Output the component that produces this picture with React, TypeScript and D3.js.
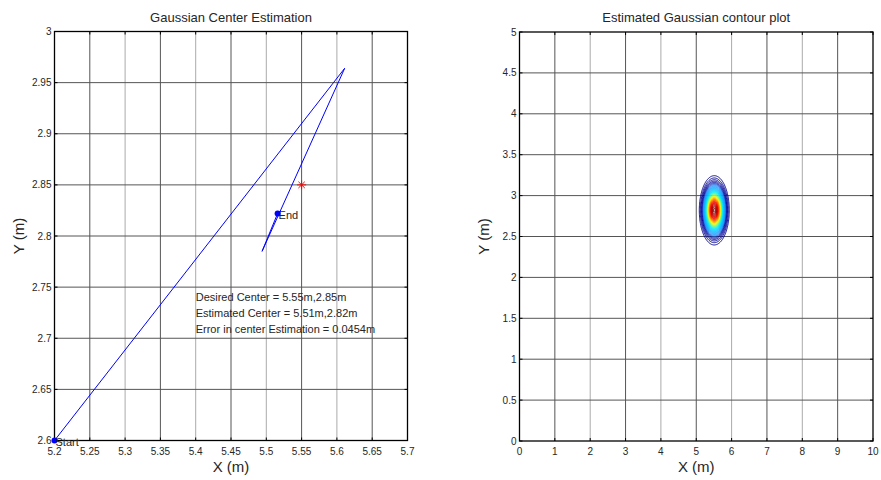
import React from "react";
import * as d3 from "d3";

// left panel: estimator trajectory
const leftXTicks = [5.2, 5.25, 5.3, 5.35, 5.4, 5.45, 5.5, 5.55, 5.6, 5.65, 5.7];
const leftYTicks = [2.6, 2.65, 2.7, 2.75, 2.8, 2.85, 2.9, 2.95, 3];
const pathX = [5.2, 5.611, 5.494, 5.516];
const pathY = [2.6, 2.964, 2.785, 2.822];
const desired = [5.55, 2.85];
const infoLines = [
  "Desired Center = 5.55m,2.85m",
  "Estimated Center = 5.51m,2.82m",
  "Error in center Estimation = 0.0454m",
];

// right panel: gaussian contour
const rightXTicks = [0, 1, 2, 3, 4, 5, 6, 7, 8, 9, 10];
const rightYTicks = [0, 0.5, 1, 1.5, 2, 2.5, 3, 3.5, 4, 4.5, 5];
const gaussCenter = [5.51, 2.82];
const gaussSigma = 0.17;
const levelCount = 44;

const FONT = "Liberation Sans, Arial, sans-serif";
const TXT = "#262626";

// jet-like map, outer levels kept dark navy like the reference
const jet = d3
  .scaleLinear<string>()
  .domain([0, 0.1, 0.16, 0.4, 0.62, 0.85, 1])
  .range(["#00008f", "#00009a", "#1a8cff", "#00f0ff", "#ffff00", "#ff0000", "#800000"]);

function Frame({ x, y, xTicks, yTicks, fmt, title }: any) {
  const [x0, x1] = x.range();
  const [y0, y1] = y.range(); // y0 bottom
  return (
    <g>
      {xTicks.slice(1, -1).map((t: number, i: number) => (
        <line key={"gx" + t} x1={x(t)} x2={x(t)} y1={y0} y2={y1}
          stroke={i % 2 === 0 ? "#555" : "#aaa"} strokeWidth={1} />
      ))}
      {yTicks.slice(1, -1).map((t: number) => (
        <line key={"gy" + t} x1={x0} x2={x1} y1={y(t)} y2={y(t)} stroke="#555" strokeWidth={1} />
      ))}
      {xTicks.map((t: number) => (
        <g key={"tx" + t}>
          <line x1={x(t)} x2={x(t)} y1={y0} y2={y0 - 3} stroke="#000" />
          <line x1={x(t)} x2={x(t)} y1={y1} y2={y1 + 3} stroke="#000" />
          <text x={x(t)} y={y0 + 14} textAnchor="middle" fontSize={10} fill={TXT} fontFamily={FONT}>
            {fmt(t)}
          </text>
        </g>
      ))}
      {yTicks.map((t: number) => (
        <g key={"ty" + t}>
          <line x1={x0} x2={x0 + 3} y1={y(t)} y2={y(t)} stroke="#000" />
          <line x1={x1} x2={x1 - 3} y1={y(t)} y2={y(t)} stroke="#000" />
          <text x={x0 - 3} y={y(t) + 3.5} textAnchor="end" fontSize={10} fill={TXT} fontFamily={FONT}>
            {fmt(t)}
          </text>
        </g>
      ))}
      <rect x={x0} y={y1} width={x1 - x0} height={y0 - y1} fill="none" stroke="#000" strokeWidth={1.3} />
      <text x={(x0 + x1) / 2} y={y1 - 10} textAnchor="middle" fontSize={13} fill={TXT} fontFamily={FONT}>
        {title}
      </text>
      <text x={(x0 + x1) / 2} y={y0 + 31} textAnchor="middle" fontSize={15} fill={TXT} fontFamily={FONT}>
        X (m)
      </text>
      <text transform={`translate(${x0 - 31},${(y0 + y1) / 2}) rotate(-90)`} textAnchor="middle"
        fontSize={15} fill={TXT} fontFamily={FONT}>
        Y (m)
      </text>
    </g>
  );
}

export default function App() {
  const fmt = (v: number) => String(+v.toFixed(2));

  const lx = d3.scaleLinear().domain([5.2, 5.7]).range([54.5, 407.5]);
  const ly = d3.scaleLinear().domain([2.6, 3]).range([440.5, 31.5]);
  const rx = d3.scaleLinear().domain([0, 10]).range([519.5, 873]);
  const ry = d3.scaleLinear().domain([0, 5]).range([441, 32]);

  const line = d3
    .line<number>()
    .x((i) => lx(pathX[i]))
    .y((i) => ly(pathY[i]));
  const last = pathX.length - 1;

  // gaussian surface sampled on a grid around the estimated center
  const step = 0.01;
  const gx0 = 4, gy0 = 1.5, nx = 300, ny = 250;
  const values = new Array(nx * ny);
  for (let j = 0; j < ny; j++) {
    for (let i = 0; i < nx; i++) {
      const dx = gx0 + i * step - gaussCenter[0];
      const dy = gy0 + j * step - gaussCenter[1];
      values[j * nx + i] = Math.exp(-(dx * dx + dy * dy) / (2 * gaussSigma * gaussSigma));
    }
  }
  const gmin = 0.045, gmax = 0.99;
  const levels = d3.range(levelCount).map((k) => gmin + (k * (gmax - gmin)) / (levelCount - 1));
  const contours = d3.contours().size([nx, ny]).thresholds(levels)(values);
  const proj = d3.geoTransform({
    point(px: number, py: number) {
      (this as any).stream.point(rx(gx0 + (px - 0.5) * step), ry(gy0 + (py - 0.5) * step));
    },
  });
  const geo = d3.geoPath(proj);

  return (
    <svg width={881} height={480} style={{ position: "absolute", left: 0, top: 0, background: "#fff" }}>
      <Frame x={lx} y={ly} xTicks={leftXTicks} yTicks={leftYTicks} fmt={fmt} title="Gaussian Center Estimation" />
      <path d={line(d3.range(pathX.length)) || ""} fill="none" stroke="#0000ff" strokeWidth={1} />
      <circle cx={lx(pathX[0])} cy={ly(pathY[0])} r={3} fill="#0000ff" />
      <circle cx={lx(pathX[last])} cy={ly(pathY[last])} r={3} fill="#0000ff" />
      <text x={lx(pathX[0]) + 1} y={ly(pathY[0]) + 5} fontSize={11} fill={TXT} fontFamily={FONT}>Start</text>
      <text x={lx(pathX[last]) + 1} y={ly(pathY[last]) + 5} fontSize={11} fill={TXT} fontFamily={FONT}>End</text>
      <g stroke="#ff0000" strokeWidth={1}>
        {[0, 45, 90, 135].map((a) => (
          <line key={a}
            x1={lx(desired[0]) - 4.5 * Math.cos((a * Math.PI) / 180)}
            y1={ly(desired[1]) - 4.5 * Math.sin((a * Math.PI) / 180)}
            x2={lx(desired[0]) + 4.5 * Math.cos((a * Math.PI) / 180)}
            y2={ly(desired[1]) + 4.5 * Math.sin((a * Math.PI) / 180)} />
        ))}
      </g>
      {infoLines.map((s, i) => (
        <text key={i} x={lx(5.4)} y={ly(2.736) + i * 16} fontSize={11} fill={TXT} fontFamily={FONT}>{s}</text>
      ))}

      <Frame x={rx} y={ry} xTicks={rightXTicks} yTicks={rightYTicks} fmt={fmt} title="Estimated Gaussian contour plot" />
      <g fill="none">
        {contours.map((c, k) => (
          <path key={k} d={geo(c as any) || ""} stroke={jet(k / (levelCount - 1))} strokeWidth={1} />
        ))}
      </g>
    </svg>
  );
}
